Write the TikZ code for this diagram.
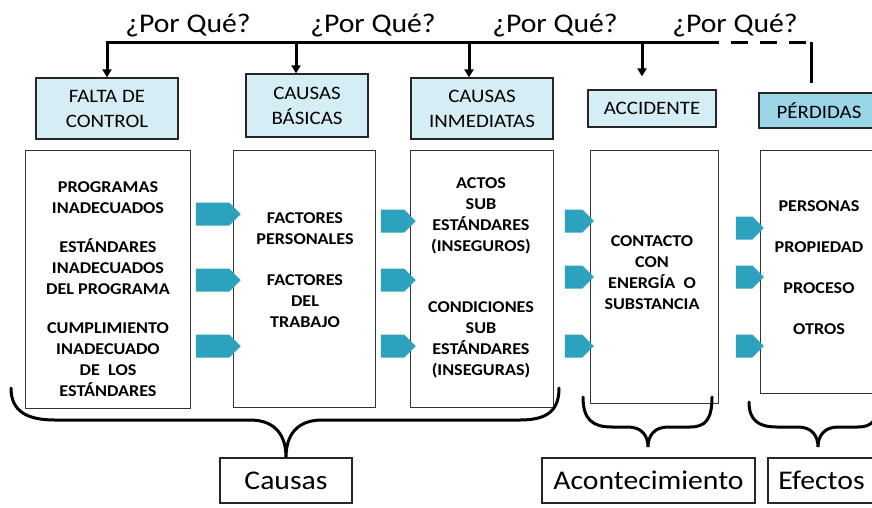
\documentclass[tikz,border=0pt]{standalone}
\usepackage{fontspec}
\setmainfont[FakeStretch=1.1]{Carlito}
\usetikzlibrary{shapes.symbols,arrows.meta}
\definecolor{headblue}{HTML}{D5EDF4}
\definecolor{lossblue}{HTML}{9AD6E8}
\definecolor{tabteal}{HTML}{2CA2BE}
\tikzset{
  head/.style={draw=black!85, line width=1.3pt, fill=headblue, align=center, inner sep=0pt,
    font=\fontsize{19}{25}\selectfont},
  panel/.style={draw=black!80, line width=1pt, inner sep=0pt},
  paneltxt/.style={align=center, inner sep=0pt, font=\fontsize{16.5}{21}\selectfont\bfseries},
  tabarrow/.style={shape=signal, signal to=east, fill=tabteal, inner sep=0pt, minimum height=23pt},
  whyline/.style={line width=3pt},
  brace/.style={line width=3pt, line cap=round},
  tag/.style={draw=black!85, line width=1.3pt, fill=white, inner sep=0pt, font=\fontsize{27}{30}\selectfont},
  why/.style={anchor=base, inner sep=0pt, font=\fontsize{27}{30}\selectfont}
}
\begin{document}
\begin{tikzpicture}[x=1pt, y=-1pt]
  \useasboundingbox (0,0) rectangle (872,507);
  % header boxes
  \node[head, minimum width=142pt, minimum height=61pt] (falta) at (107,108.5) {FALTA DE\\CONTROL};
  \node[head, minimum width=122pt, minimum height=63pt] (basicas) at (307,105.5) {CAUSAS\\BÁSICAS};
  \node[head, minimum width=142pt, minimum height=61pt] (inmed) at (482,108.5) {CAUSAS\\INMEDIATAS};
  \node[head, minimum width=128pt, minimum height=37pt] (accid) at (652,108.5) {ACCIDENTE};
  \node[head, fill=lossblue, minimum width=120pt, minimum height=35pt] (perd) at (819,110.5) {PÉRDIDAS};
  % ¿Por Qué? line
  \node[why] (why1) at (188,32) {¿Por Qué?};
  \node[why] (why2) at (373,32) {¿Por Qué?};
  \node[why] (why3) at (555,32) {¿Por Qué?};
  \node[why] (why4) at (735,32) {¿Por Qué?};
  \coordinate (barL) at (107,42);
  \coordinate (barB) at (296,42);
  \coordinate (barI) at (469,42);
  \coordinate (barA) at (642,42);
  \coordinate (barM) at (719,42);
  \coordinate (barR) at (811,42);
  \coordinate (drop) at (811,83);
  \draw[whyline, -{Triangle[width=9pt,length=8pt]}] (barM) -- (barL) -- (falta.north);
  \draw[whyline, -{Triangle[width=9pt,length=8pt]}] (barB) -- (basicas.north -| barB);
  \draw[whyline, -{Triangle[width=9pt,length=8pt]}] (barI) -- (inmed.north -| barI);
  \draw[whyline, -{Triangle[width=9pt,length=8pt]}, shorten >=13pt] (barA) -- (accid.north -| barA);
  \draw[whyline, dash pattern=on 17pt off 12pt, dash phase=-12pt] (barM) -- (barR);
  \draw[whyline] (barR) -- (drop);
  % main panels
  \node[panel, minimum width=165pt, minimum height=258pt] (p1) at (107.5,279) {};
  \node[panel, minimum width=142pt, minimum height=257pt] (p2) at (304,278.5) {};
  \node[panel, minimum width=143pt, minimum height=257pt] (p3) at (481.5,278.5) {};
  \node[panel, minimum width=128pt, minimum height=253pt] (p4) at (654,276.5) {};
  \node[panel, minimum width=120pt, minimum height=243pt] (p5) at (820,271.5) {};
  \node[paneltxt] (t1) at (108,289) {PROGRAMAS\\INADECUADOS\\[18pt]ESTÁNDARES\\INADECUADOS\\DEL PROGRAMA\\[18pt]CUMPLIMIENTO\\INADECUADO\\DE~ LOS\\ESTÁNDARES};
  \node[paneltxt] (t2) at (305,270) {FACTORES\\PERSONALES\\[20pt]FACTORES\\DEL\\TRABAJO};
  \node[paneltxt] (t3) at (481,278) {ACTOS\\SUB\\ESTÁNDARES\\(INSEGUROS)\\[40pt]CONDICIONES\\SUB\\ESTÁNDARES\\(INSEGURAS)};
  \node[paneltxt] (t4) at (652,273) {CONTACTO\\CON\\ENERGÍA~ O\\SUBSTANCIA};
  \node[paneltxt] (t5) at (819,268) {PERSONAS\\[20pt]PROPIEDAD\\[20pt]PROCESO\\[20pt]OTROS};
  % teal arrows between panels
  \foreach \c/\cx/\w/\ya/\yb/\yc in {1/212.5/45/214/280/346, 2/392.5/35/221/280/346,
                                     3/573.5/29/221/277/346, 4/744/28/228/277/346}{
    \foreach \y in {\ya,\yb,\yc}{
      \node[tabarrow, minimum width=\w pt] (tab\c-\y) at (\cx,\y) {};
    }
  }
  % bottom tags
  \node[tag, minimum width=132pt, minimum height=45pt] (causas) at (286,480.5) {Causas};
  \node[tag, minimum width=213pt, minimum height=45pt] (acont) at (648.5,480.5) {Acontecimiento};
  \node[tag, minimum width=107pt, minimum height=45pt] (efectos) at (821.5,480.5) {Efectos};
  % braces
  \coordinate (acTip) at (648,447);
  \coordinate (efTip) at (818,447);
  \draw[brace] (11,388) .. controls (11,412) and (28,420) .. (55,420) -- (250,420)
    .. controls (275,420) and (286,435) .. (causas.north)
    .. controls (286,435) and (297,420) .. (322,420) -- (520,420)
    .. controls (548,420) and (559,410) .. (559,388);
  \draw[brace] (583,397) .. controls (583,420) and (593,427) .. (612,427) -- (628,427)
    .. controls (641,427) and (648,435) .. (acTip)
    .. controls (648,435) and (655,427) .. (668,427) -- (690,427)
    .. controls (705,427) and (712,420) .. (712,397);
  \draw[brace] (749,402) .. controls (749,420) and (758,427) .. (777,427) -- (798,427)
    .. controls (811,427) and (818,435) .. (efTip)
    .. controls (818,435) and (825,427) .. (838,427) -- (858,427)
    .. controls (872,427) and (878,420) .. (878,402);
\end{tikzpicture}
\end{document}
